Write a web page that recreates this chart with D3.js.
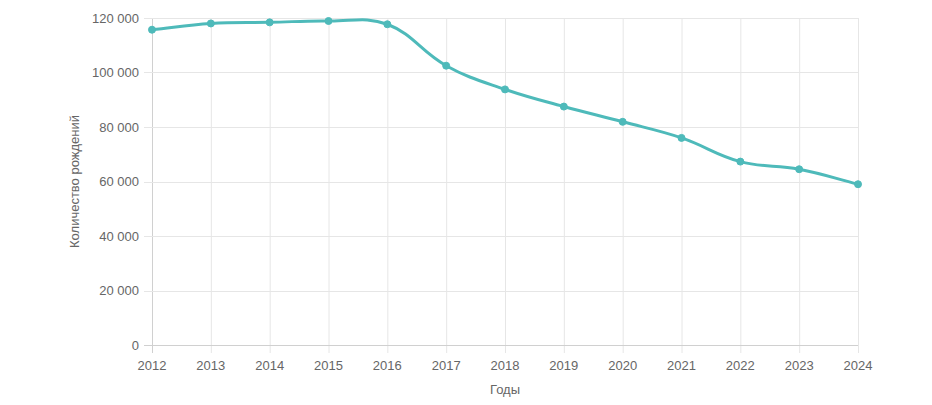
<!DOCTYPE html>
<html><head><meta charset="utf-8">
<script src="https://cdn.jsdelivr.net/npm/d3@7"></script>
<style>body{margin:0;background:#fff;}svg{display:block;}</style>
</head><body>
<svg id="c" width="932" height="405"></svg>
<script>
const years = [2012,2013,2014,2015,2016,2017,2018,2019,2020,2021,2022,2023,2024];
const births = [115700,118000,118400,118900,117700,102500,93800,87500,81900,76000,67300,64500,59000];
const yTicks = [0,20000,40000,60000,80000,100000,120000];
const xTitle = "Годы";
const yTitle = "Количество рождений";

const W=932,H=405, m={l:152,r:74,t:18,b:60};
const svg=d3.select("#c");
const x=d3.scalePoint().domain(years).range([m.l,W-m.r]);
const y=d3.scaleLinear().domain([0,120000]).range([H-m.b,m.t]);
const font="'Liberation Sans', Arial, Helvetica, sans-serif";
const fmt=v=>d3.format(",")(v).replace(/,/g," ");

// grid
const g=svg.append("g");
g.selectAll("line.vx").data(years).join("line")
 .attr("x1",d=>x(d)+0.5).attr("x2",d=>x(d)+0.5).attr("y1",m.t).attr("y2",H-m.b+8)
 .attr("stroke",(d,i)=>i===0?"#d0d0d0":"#e6e6e6").attr("stroke-width",1);
g.selectAll("line.hy").data(yTicks).join("line")
 .attr("x1",m.l-8).attr("x2",W-m.r).attr("y1",d=>Math.round(y(d))+0.5).attr("y2",d=>Math.round(y(d))+0.5)
 .attr("stroke",d=>d===0?"#d0d0d0":"#e6e6e6").attr("stroke-width",1);

// tick labels
svg.append("g").selectAll("text").data(years).join("text")
 .attr("x",d=>x(d)).attr("y",H-m.b+25).attr("text-anchor","middle")
 .attr("font-family",font).attr("font-size",13).attr("fill","#666").text(d=>d);
svg.append("g").selectAll("text").data(yTicks).join("text")
 .attr("x",m.l-13).attr("y",d=>y(d)).attr("dy","0.35em").attr("text-anchor","end")
 .attr("font-family",font).attr("font-size",13).attr("fill","#666").text(d=>fmt(d));

// titles
svg.append("text").attr("x",(m.l+W-m.r)/2).attr("y",394).attr("text-anchor","middle")
 .attr("font-family",font).attr("font-size",13).attr("fill","#666").text(xTitle);
svg.append("text").attr("transform",`translate(79,${(m.t+H-m.b)/2}) rotate(-90)`).attr("text-anchor","middle")
 .attr("font-family",font).attr("font-size",13).attr("fill","#666").text(yTitle);

// Chart.js-style spline (tension 0.4)
const pts=years.map((d,i)=>({x:x(d),y:y(births[i])}));
const t=0.4;
const cps=pts.map((p,i)=>{
  const prev=pts[i-1]||p, next=pts[i+1]||p;
  const d01=Math.hypot(p.x-prev.x,p.y-prev.y), d12=Math.hypot(next.x-p.x,next.y-p.y);
  let s01=d01/(d01+d12), s12=d12/(d01+d12);
  s01=isNaN(s01)?0:s01; s12=isNaN(s12)?0:s12;
  const fa=t*s01, fb=t*s12;
  return {px:p.x-fa*(next.x-prev.x), py:p.y-fa*(next.y-prev.y), nx:p.x+fb*(next.x-prev.x), ny:p.y+fb*(next.y-prev.y)};
});
const path=d3.path();
path.moveTo(pts[0].x,pts[0].y);
for(let i=1;i<pts.length;i++){
  path.bezierCurveTo(cps[i-1].nx,cps[i-1].ny,cps[i].px,cps[i].py,pts[i].x,pts[i].y);
}
const col="rgb(78,186,186)";
svg.append("path").attr("d",path.toString()).attr("fill","none").attr("stroke",col).attr("stroke-width",3);
svg.append("g").selectAll("circle").data(pts).join("circle")
 .attr("cx",d=>d.x).attr("cy",d=>d.y).attr("r",3.5).attr("fill",col).attr("stroke",col).attr("stroke-width",1);
</script>
</body></html>
